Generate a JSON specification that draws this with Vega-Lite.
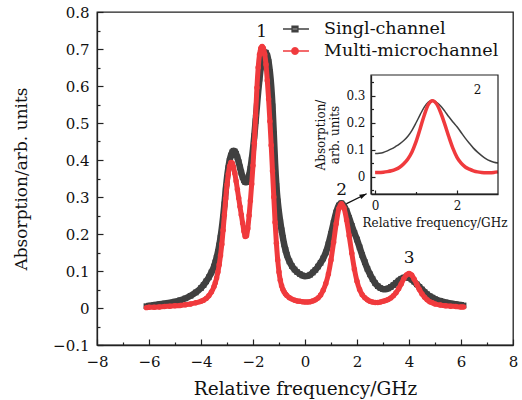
{
  "$schema": "https://vega.github.io/schema/vega-lite/v6.json",
  "width": 416,
  "height": 333,
  "autosize": {"type": "none"},
  "padding": {"left": 97, "top": 12, "right": 9, "bottom": 55},
  "background": "white",
  "config": {
    "font": "DejaVu Serif",
    "view": {"stroke": "#222", "strokeWidth": 1.3},
    "axis": {"grid": false, "domainColor": "#222", "domainWidth": 1.3, "tickColor": "#222", "tickWidth": 1.2, "labelColor": "#111", "titleColor": "#111", "titleFontWeight": "normal", "labelFont": "DejaVu Serif", "titleFont": "DejaVu Serif", "labelOverlap": false, "labelFlush": false, "labelBound": false},
    "legend": {"labelFont": "DejaVu Serif"}
  },
  "datasets": {
    "curves": [
      {"series": "Singl-channel", "x": -6.1, "y": 0.005},
      {"series": "Singl-channel", "x": -6.0, "y": 0.006},
      {"series": "Singl-channel", "x": -5.8, "y": 0.008},
      {"series": "Singl-channel", "x": -5.6, "y": 0.010},
      {"series": "Singl-channel", "x": -5.4, "y": 0.012},
      {"series": "Singl-channel", "x": -5.2, "y": 0.014},
      {"series": "Singl-channel", "x": -5.0, "y": 0.017},
      {"series": "Singl-channel", "x": -4.8, "y": 0.021},
      {"series": "Singl-channel", "x": -4.6, "y": 0.026},
      {"series": "Singl-channel", "x": -4.4, "y": 0.033},
      {"series": "Singl-channel", "x": -4.2, "y": 0.042},
      {"series": "Singl-channel", "x": -4.0, "y": 0.054},
      {"series": "Singl-channel", "x": -3.9, "y": 0.062},
      {"series": "Singl-channel", "x": -3.8, "y": 0.072},
      {"series": "Singl-channel", "x": -3.7, "y": 0.083},
      {"series": "Singl-channel", "x": -3.6, "y": 0.096},
      {"series": "Singl-channel", "x": -3.5, "y": 0.112},
      {"series": "Singl-channel", "x": -3.45, "y": 0.123},
      {"series": "Singl-channel", "x": -3.4, "y": 0.136},
      {"series": "Singl-channel", "x": -3.35, "y": 0.151},
      {"series": "Singl-channel", "x": -3.3, "y": 0.169},
      {"series": "Singl-channel", "x": -3.25, "y": 0.19},
      {"series": "Singl-channel", "x": -3.2, "y": 0.215},
      {"series": "Singl-channel", "x": -3.15, "y": 0.245},
      {"series": "Singl-channel", "x": -3.1, "y": 0.28},
      {"series": "Singl-channel", "x": -3.05, "y": 0.318},
      {"series": "Singl-channel", "x": -3.0, "y": 0.352},
      {"series": "Singl-channel", "x": -2.95, "y": 0.378},
      {"series": "Singl-channel", "x": -2.9, "y": 0.398},
      {"series": "Singl-channel", "x": -2.85, "y": 0.412},
      {"series": "Singl-channel", "x": -2.8, "y": 0.421},
      {"series": "Singl-channel", "x": -2.75, "y": 0.425},
      {"series": "Singl-channel", "x": -2.7, "y": 0.423},
      {"series": "Singl-channel", "x": -2.65, "y": 0.417},
      {"series": "Singl-channel", "x": -2.6, "y": 0.407},
      {"series": "Singl-channel", "x": -2.55, "y": 0.394},
      {"series": "Singl-channel", "x": -2.5, "y": 0.38},
      {"series": "Singl-channel", "x": -2.45, "y": 0.366},
      {"series": "Singl-channel", "x": -2.4, "y": 0.354},
      {"series": "Singl-channel", "x": -2.35, "y": 0.345},
      {"series": "Singl-channel", "x": -2.3, "y": 0.34},
      {"series": "Singl-channel", "x": -2.25, "y": 0.34},
      {"series": "Singl-channel", "x": -2.2, "y": 0.346},
      {"series": "Singl-channel", "x": -2.15, "y": 0.358},
      {"series": "Singl-channel", "x": -2.1, "y": 0.376},
      {"series": "Singl-channel", "x": -2.05, "y": 0.40},
      {"series": "Singl-channel", "x": -2.0, "y": 0.43},
      {"series": "Singl-channel", "x": -1.95, "y": 0.465},
      {"series": "Singl-channel", "x": -1.9, "y": 0.505},
      {"series": "Singl-channel", "x": -1.85, "y": 0.545},
      {"series": "Singl-channel", "x": -1.8, "y": 0.585},
      {"series": "Singl-channel", "x": -1.75, "y": 0.62},
      {"series": "Singl-channel", "x": -1.7, "y": 0.65},
      {"series": "Singl-channel", "x": -1.65, "y": 0.672},
      {"series": "Singl-channel", "x": -1.6, "y": 0.685},
      {"series": "Singl-channel", "x": -1.55, "y": 0.691},
      {"series": "Singl-channel", "x": -1.5, "y": 0.69},
      {"series": "Singl-channel", "x": -1.45, "y": 0.682},
      {"series": "Singl-channel", "x": -1.4, "y": 0.665},
      {"series": "Singl-channel", "x": -1.35, "y": 0.638},
      {"series": "Singl-channel", "x": -1.3, "y": 0.6},
      {"series": "Singl-channel", "x": -1.25, "y": 0.545},
      {"series": "Singl-channel", "x": -1.2, "y": 0.47},
      {"series": "Singl-channel", "x": -1.15, "y": 0.39},
      {"series": "Singl-channel", "x": -1.1, "y": 0.33},
      {"series": "Singl-channel", "x": -1.05, "y": 0.288},
      {"series": "Singl-channel", "x": -1.0, "y": 0.258},
      {"series": "Singl-channel", "x": -0.95, "y": 0.232},
      {"series": "Singl-channel", "x": -0.9, "y": 0.21},
      {"series": "Singl-channel", "x": -0.85, "y": 0.19},
      {"series": "Singl-channel", "x": -0.8, "y": 0.172},
      {"series": "Singl-channel", "x": -0.75, "y": 0.157},
      {"series": "Singl-channel", "x": -0.7, "y": 0.144},
      {"series": "Singl-channel", "x": -0.6, "y": 0.126},
      {"series": "Singl-channel", "x": -0.5, "y": 0.113},
      {"series": "Singl-channel", "x": -0.4, "y": 0.104},
      {"series": "Singl-channel", "x": -0.3, "y": 0.097},
      {"series": "Singl-channel", "x": -0.2, "y": 0.092},
      {"series": "Singl-channel", "x": -0.1, "y": 0.088},
      {"series": "Singl-channel", "x": 0.0, "y": 0.086},
      {"series": "Singl-channel", "x": 0.1, "y": 0.087},
      {"series": "Singl-channel", "x": 0.2, "y": 0.09},
      {"series": "Singl-channel", "x": 0.3, "y": 0.096},
      {"series": "Singl-channel", "x": 0.4, "y": 0.103},
      {"series": "Singl-channel", "x": 0.5, "y": 0.112},
      {"series": "Singl-channel", "x": 0.6, "y": 0.122},
      {"series": "Singl-channel", "x": 0.7, "y": 0.134},
      {"series": "Singl-channel", "x": 0.8, "y": 0.15},
      {"series": "Singl-channel", "x": 0.9, "y": 0.172},
      {"series": "Singl-channel", "x": 1.0, "y": 0.2},
      {"series": "Singl-channel", "x": 1.1, "y": 0.23},
      {"series": "Singl-channel", "x": 1.2, "y": 0.258},
      {"series": "Singl-channel", "x": 1.3, "y": 0.277},
      {"series": "Singl-channel", "x": 1.4, "y": 0.283},
      {"series": "Singl-channel", "x": 1.5, "y": 0.276},
      {"series": "Singl-channel", "x": 1.6, "y": 0.262},
      {"series": "Singl-channel", "x": 1.7, "y": 0.243},
      {"series": "Singl-channel", "x": 1.8, "y": 0.222},
      {"series": "Singl-channel", "x": 1.9, "y": 0.203},
      {"series": "Singl-channel", "x": 2.0, "y": 0.185},
      {"series": "Singl-channel", "x": 2.1, "y": 0.164},
      {"series": "Singl-channel", "x": 2.2, "y": 0.143},
      {"series": "Singl-channel", "x": 2.3, "y": 0.124},
      {"series": "Singl-channel", "x": 2.4, "y": 0.106},
      {"series": "Singl-channel", "x": 2.5, "y": 0.091},
      {"series": "Singl-channel", "x": 2.6, "y": 0.078},
      {"series": "Singl-channel", "x": 2.7, "y": 0.067},
      {"series": "Singl-channel", "x": 2.8, "y": 0.059},
      {"series": "Singl-channel", "x": 2.9, "y": 0.054},
      {"series": "Singl-channel", "x": 3.0, "y": 0.051},
      {"series": "Singl-channel", "x": 3.1, "y": 0.051},
      {"series": "Singl-channel", "x": 3.2, "y": 0.053},
      {"series": "Singl-channel", "x": 3.3, "y": 0.057},
      {"series": "Singl-channel", "x": 3.4, "y": 0.062},
      {"series": "Singl-channel", "x": 3.5, "y": 0.068},
      {"series": "Singl-channel", "x": 3.6, "y": 0.074},
      {"series": "Singl-channel", "x": 3.7, "y": 0.079},
      {"series": "Singl-channel", "x": 3.8, "y": 0.082},
      {"series": "Singl-channel", "x": 3.9, "y": 0.083},
      {"series": "Singl-channel", "x": 4.0, "y": 0.081},
      {"series": "Singl-channel", "x": 4.1, "y": 0.077},
      {"series": "Singl-channel", "x": 4.2, "y": 0.071},
      {"series": "Singl-channel", "x": 4.3, "y": 0.064},
      {"series": "Singl-channel", "x": 4.4, "y": 0.057},
      {"series": "Singl-channel", "x": 4.5, "y": 0.05},
      {"series": "Singl-channel", "x": 4.6, "y": 0.043},
      {"series": "Singl-channel", "x": 4.7, "y": 0.037},
      {"series": "Singl-channel", "x": 4.8, "y": 0.032},
      {"series": "Singl-channel", "x": 4.9, "y": 0.028},
      {"series": "Singl-channel", "x": 5.0, "y": 0.024},
      {"series": "Singl-channel", "x": 5.2, "y": 0.019},
      {"series": "Singl-channel", "x": 5.4, "y": 0.015},
      {"series": "Singl-channel", "x": 5.6, "y": 0.012},
      {"series": "Singl-channel", "x": 5.8, "y": 0.01},
      {"series": "Singl-channel", "x": 6.0, "y": 0.008},
      {"series": "Singl-channel", "x": 6.1, "y": 0.007},
      {"series": "Multi-microchannel", "x": -6.1, "y": 0.001},
      {"series": "Multi-microchannel", "x": -6.0, "y": 0.002},
      {"series": "Multi-microchannel", "x": -5.8, "y": 0.002},
      {"series": "Multi-microchannel", "x": -5.6, "y": 0.003},
      {"series": "Multi-microchannel", "x": -5.4, "y": 0.004},
      {"series": "Multi-microchannel", "x": -5.2, "y": 0.005},
      {"series": "Multi-microchannel", "x": -5.0, "y": 0.006},
      {"series": "Multi-microchannel", "x": -4.8, "y": 0.007},
      {"series": "Multi-microchannel", "x": -4.6, "y": 0.009},
      {"series": "Multi-microchannel", "x": -4.4, "y": 0.011},
      {"series": "Multi-microchannel", "x": -4.2, "y": 0.014},
      {"series": "Multi-microchannel", "x": -4.0, "y": 0.018},
      {"series": "Multi-microchannel", "x": -3.9, "y": 0.021},
      {"series": "Multi-microchannel", "x": -3.8, "y": 0.026},
      {"series": "Multi-microchannel", "x": -3.7, "y": 0.033},
      {"series": "Multi-microchannel", "x": -3.6, "y": 0.043},
      {"series": "Multi-microchannel", "x": -3.5, "y": 0.058},
      {"series": "Multi-microchannel", "x": -3.45, "y": 0.068},
      {"series": "Multi-microchannel", "x": -3.4, "y": 0.081},
      {"series": "Multi-microchannel", "x": -3.35, "y": 0.097},
      {"series": "Multi-microchannel", "x": -3.3, "y": 0.117},
      {"series": "Multi-microchannel", "x": -3.25, "y": 0.142},
      {"series": "Multi-microchannel", "x": -3.2, "y": 0.172},
      {"series": "Multi-microchannel", "x": -3.15, "y": 0.21},
      {"series": "Multi-microchannel", "x": -3.1, "y": 0.252},
      {"series": "Multi-microchannel", "x": -3.05, "y": 0.295},
      {"series": "Multi-microchannel", "x": -3.0, "y": 0.333},
      {"series": "Multi-microchannel", "x": -2.95, "y": 0.362},
      {"series": "Multi-microchannel", "x": -2.9, "y": 0.383},
      {"series": "Multi-microchannel", "x": -2.85, "y": 0.393},
      {"series": "Multi-microchannel", "x": -2.8, "y": 0.392},
      {"series": "Multi-microchannel", "x": -2.75, "y": 0.381},
      {"series": "Multi-microchannel", "x": -2.7, "y": 0.364},
      {"series": "Multi-microchannel", "x": -2.65, "y": 0.343},
      {"series": "Multi-microchannel", "x": -2.6, "y": 0.32},
      {"series": "Multi-microchannel", "x": -2.55, "y": 0.297},
      {"series": "Multi-microchannel", "x": -2.5, "y": 0.274},
      {"series": "Multi-microchannel", "x": -2.45, "y": 0.252},
      {"series": "Multi-microchannel", "x": -2.4, "y": 0.23},
      {"series": "Multi-microchannel", "x": -2.35, "y": 0.208},
      {"series": "Multi-microchannel", "x": -2.3, "y": 0.193},
      {"series": "Multi-microchannel", "x": -2.25, "y": 0.195},
      {"series": "Multi-microchannel", "x": -2.2, "y": 0.215},
      {"series": "Multi-microchannel", "x": -2.15, "y": 0.25},
      {"series": "Multi-microchannel", "x": -2.1, "y": 0.29},
      {"series": "Multi-microchannel", "x": -2.05, "y": 0.335},
      {"series": "Multi-microchannel", "x": -2.0, "y": 0.385},
      {"series": "Multi-microchannel", "x": -1.95, "y": 0.445},
      {"series": "Multi-microchannel", "x": -1.9, "y": 0.52},
      {"series": "Multi-microchannel", "x": -1.85, "y": 0.595},
      {"series": "Multi-microchannel", "x": -1.8, "y": 0.65},
      {"series": "Multi-microchannel", "x": -1.75, "y": 0.685},
      {"series": "Multi-microchannel", "x": -1.7, "y": 0.702},
      {"series": "Multi-microchannel", "x": -1.65, "y": 0.707},
      {"series": "Multi-microchannel", "x": -1.6, "y": 0.702},
      {"series": "Multi-microchannel", "x": -1.55, "y": 0.686},
      {"series": "Multi-microchannel", "x": -1.5, "y": 0.658},
      {"series": "Multi-microchannel", "x": -1.45, "y": 0.615},
      {"series": "Multi-microchannel", "x": -1.4, "y": 0.565},
      {"series": "Multi-microchannel", "x": -1.35, "y": 0.505},
      {"series": "Multi-microchannel", "x": -1.3, "y": 0.44},
      {"series": "Multi-microchannel", "x": -1.25, "y": 0.37},
      {"series": "Multi-microchannel", "x": -1.2, "y": 0.3},
      {"series": "Multi-microchannel", "x": -1.15, "y": 0.232},
      {"series": "Multi-microchannel", "x": -1.1, "y": 0.175},
      {"series": "Multi-microchannel", "x": -1.05, "y": 0.13},
      {"series": "Multi-microchannel", "x": -1.0, "y": 0.097},
      {"series": "Multi-microchannel", "x": -0.95, "y": 0.075},
      {"series": "Multi-microchannel", "x": -0.9, "y": 0.06},
      {"series": "Multi-microchannel", "x": -0.85, "y": 0.05},
      {"series": "Multi-microchannel", "x": -0.8, "y": 0.043},
      {"series": "Multi-microchannel", "x": -0.75, "y": 0.038},
      {"series": "Multi-microchannel", "x": -0.7, "y": 0.034},
      {"series": "Multi-microchannel", "x": -0.6, "y": 0.028},
      {"series": "Multi-microchannel", "x": -0.5, "y": 0.024},
      {"series": "Multi-microchannel", "x": -0.4, "y": 0.021},
      {"series": "Multi-microchannel", "x": -0.3, "y": 0.019},
      {"series": "Multi-microchannel", "x": -0.2, "y": 0.018},
      {"series": "Multi-microchannel", "x": -0.1, "y": 0.017},
      {"series": "Multi-microchannel", "x": 0.0, "y": 0.016},
      {"series": "Multi-microchannel", "x": 0.1, "y": 0.016},
      {"series": "Multi-microchannel", "x": 0.2, "y": 0.017},
      {"series": "Multi-microchannel", "x": 0.3, "y": 0.019},
      {"series": "Multi-microchannel", "x": 0.4, "y": 0.022},
      {"series": "Multi-microchannel", "x": 0.5, "y": 0.027},
      {"series": "Multi-microchannel", "x": 0.6, "y": 0.035},
      {"series": "Multi-microchannel", "x": 0.7, "y": 0.048},
      {"series": "Multi-microchannel", "x": 0.8, "y": 0.066},
      {"series": "Multi-microchannel", "x": 0.9, "y": 0.092},
      {"series": "Multi-microchannel", "x": 1.0, "y": 0.13},
      {"series": "Multi-microchannel", "x": 1.1, "y": 0.178},
      {"series": "Multi-microchannel", "x": 1.2, "y": 0.228},
      {"series": "Multi-microchannel", "x": 1.3, "y": 0.268},
      {"series": "Multi-microchannel", "x": 1.4, "y": 0.282},
      {"series": "Multi-microchannel", "x": 1.5, "y": 0.27},
      {"series": "Multi-microchannel", "x": 1.6, "y": 0.238},
      {"series": "Multi-microchannel", "x": 1.7, "y": 0.195},
      {"series": "Multi-microchannel", "x": 1.8, "y": 0.148},
      {"series": "Multi-microchannel", "x": 1.9, "y": 0.105},
      {"series": "Multi-microchannel", "x": 2.0, "y": 0.072},
      {"series": "Multi-microchannel", "x": 2.1, "y": 0.05},
      {"series": "Multi-microchannel", "x": 2.2, "y": 0.036},
      {"series": "Multi-microchannel", "x": 2.3, "y": 0.028},
      {"series": "Multi-microchannel", "x": 2.4, "y": 0.022},
      {"series": "Multi-microchannel", "x": 2.5, "y": 0.018},
      {"series": "Multi-microchannel", "x": 2.6, "y": 0.016},
      {"series": "Multi-microchannel", "x": 2.7, "y": 0.015},
      {"series": "Multi-microchannel", "x": 2.8, "y": 0.015},
      {"series": "Multi-microchannel", "x": 2.9, "y": 0.016},
      {"series": "Multi-microchannel", "x": 3.0, "y": 0.018},
      {"series": "Multi-microchannel", "x": 3.1, "y": 0.02},
      {"series": "Multi-microchannel", "x": 3.2, "y": 0.023},
      {"series": "Multi-microchannel", "x": 3.3, "y": 0.027},
      {"series": "Multi-microchannel", "x": 3.4, "y": 0.033},
      {"series": "Multi-microchannel", "x": 3.5, "y": 0.041},
      {"series": "Multi-microchannel", "x": 3.6, "y": 0.052},
      {"series": "Multi-microchannel", "x": 3.7, "y": 0.065},
      {"series": "Multi-microchannel", "x": 3.8, "y": 0.079},
      {"series": "Multi-microchannel", "x": 3.9, "y": 0.089},
      {"series": "Multi-microchannel", "x": 4.0, "y": 0.093},
      {"series": "Multi-microchannel", "x": 4.1, "y": 0.089},
      {"series": "Multi-microchannel", "x": 4.2, "y": 0.078},
      {"series": "Multi-microchannel", "x": 4.3, "y": 0.064},
      {"series": "Multi-microchannel", "x": 4.4, "y": 0.05},
      {"series": "Multi-microchannel", "x": 4.5, "y": 0.038},
      {"series": "Multi-microchannel", "x": 4.6, "y": 0.029},
      {"series": "Multi-microchannel", "x": 4.7, "y": 0.022},
      {"series": "Multi-microchannel", "x": 4.8, "y": 0.017},
      {"series": "Multi-microchannel", "x": 4.9, "y": 0.014},
      {"series": "Multi-microchannel", "x": 5.0, "y": 0.011},
      {"series": "Multi-microchannel", "x": 5.2, "y": 0.008},
      {"series": "Multi-microchannel", "x": 5.4, "y": 0.006},
      {"series": "Multi-microchannel", "x": 5.6, "y": 0.005},
      {"series": "Multi-microchannel", "x": 5.8, "y": 0.004},
      {"series": "Multi-microchannel", "x": 6.0, "y": 0.003},
      {"series": "Multi-microchannel", "x": 6.1, "y": 0.003}
    ],
    "peaks": [
      {"label": "1", "x": -1.67, "y": 0.746},
      {"label": "2", "x": 1.41, "y": 0.318},
      {"label": "3", "x": 4.01, "y": 0.134}
    ],
    "arrow": [
      {"x": 1.6, "y": 0.282, "x2": 2.37, "y2": 0.309}
    ],
    "insetLabel": [
      {"label": "2", "x": 2.5, "y": 0.321}
    ],
    "frame": [
      {"x": -0.1, "x2": 3.0, "y": -0.064, "y2": 0.377}
    ]
  },
  "resolve": {"scale": {"x": "independent", "y": "independent"}},
  "layer": [
    {
      "data": {"name": "curves"},
      "transform": [{"filter": "datum.series === 'Singl-channel'"}],
      "mark": {"type": "line", "interpolate": "monotone", "strokeWidth": 6.5, "color": "#404040"},
      "encoding": {
        "x": {"field": "x", "type": "quantitative", "scale": {"domain": [-8, 8], "nice": false, "zero": false},
          "axis": {"orient": "bottom", "values": [-8,-7,-6,-5,-4,-3,-2,-1,0,1,2,3,4,5,6,7,8],
            "tickSize": {"condition": {"test": "datum.value % 2 === 0", "value": -6}, "value": -3},
            "labelExpr": "datum.value % 2 === 0 ? format(datum.value, 'd') : ''",
            "labelFontSize": 15, "labelPadding": 15, "title": "Relative frequency/GHz", "titleFontSize": 18.5, "titlePadding": 7}},
        "y": {"field": "y", "type": "quantitative", "scale": {"domain": [-0.1, 0.8], "nice": false, "zero": false},
          "axis": {"orient": "left", "values": [-0.1,-0.05,0,0.05,0.1,0.15,0.2,0.25,0.3,0.35,0.4,0.45,0.5,0.55,0.6,0.65,0.7,0.75,0.8],
            "tickSize": {"condition": {"test": "abs(round(datum.value*20)) % 2 === 0", "value": -6}, "value": -3},
            "labelExpr": "abs(round(datum.value*20)) % 2 === 0 ? format(datum.value, '.1~f') : ''",
            "labelFontSize": 15, "labelPadding": 14, "title": "Absorption/arb. units", "titleFontSize": 17, "titlePadding": 22}}
      }
    },
    {
      "data": {"name": "curves"},
      "transform": [{"filter": "datum.series === 'Singl-channel'"}],
      "mark": {"type": "point", "filled": true, "shape": "square", "size": 32, "opacity": 1, "color": "#404040"},
      "encoding": {
        "x": {"field": "x", "type": "quantitative", "scale": {"domain": [-8, 8], "nice": false, "zero": false}, "axis": null},
        "y": {"field": "y", "type": "quantitative", "scale": {"domain": [-0.1, 0.8], "nice": false, "zero": false}, "axis": null}
      }
    },
    {
      "data": {"name": "curves"},
      "transform": [{"filter": "datum.series === 'Multi-microchannel'"}],
      "mark": {"type": "line", "interpolate": "monotone", "strokeWidth": 5, "color": "#f03a3d"},
      "encoding": {
        "x": {"field": "x", "type": "quantitative", "scale": {"domain": [-8, 8], "nice": false, "zero": false}, "axis": null},
        "y": {"field": "y", "type": "quantitative", "scale": {"domain": [-0.1, 0.8], "nice": false, "zero": false}, "axis": null}
      }
    },
    {
      "data": {"name": "curves"},
      "transform": [{"filter": "datum.series === 'Multi-microchannel'"}],
      "mark": {"type": "point", "filled": true, "shape": "circle", "size": 30, "opacity": 1, "color": "#f03a3d"},
      "encoding": {
        "x": {"field": "x", "type": "quantitative", "scale": {"domain": [-8, 8], "nice": false, "zero": false}, "axis": null},
        "y": {"field": "y", "type": "quantitative", "scale": {"domain": [-0.1, 0.8], "nice": false, "zero": false}, "axis": null}
      }
    },
    {
      "data": {"name": "peaks"},
      "mark": {"type": "text", "fontSize": 17, "color": "#111", "baseline": "middle", "align": "center"},
      "encoding": {
        "x": {"field": "x", "type": "quantitative", "scale": {"domain": [-8, 8], "nice": false, "zero": false}, "axis": null},
        "y": {"field": "y", "type": "quantitative", "scale": {"domain": [-0.1, 0.8], "nice": false, "zero": false}, "axis": null},
        "text": {"field": "label"}
      }
    },
    {
      "data": {"name": "arrow"},
      "mark": {"type": "rule", "color": "#111", "strokeWidth": 1.2},
      "encoding": {
        "x": {"field": "x", "type": "quantitative", "scale": {"domain": [-8, 8], "nice": false, "zero": false}, "axis": null},
        "y": {"field": "y", "type": "quantitative", "scale": {"domain": [-0.1, 0.8], "nice": false, "zero": false}, "axis": null},
        "x2": {"field": "x2"},
        "y2": {"field": "y2"}
      }
    },
    {
      "data": {"name": "arrow"},
      "mark": {"type": "point", "filled": true, "color": "#111", "opacity": 1, "size": 64, "angle": 63, "shape": "M0,0L0.6,1.8L-0.6,1.8Z"},
      "encoding": {
        "x": {"field": "x2", "type": "quantitative", "scale": {"domain": [-8, 8], "nice": false, "zero": false}, "axis": null},
        "y": {"field": "y2", "type": "quantitative", "scale": {"domain": [-0.1, 0.8], "nice": false, "zero": false}, "axis": null}
      }
    },
    {
      "data": {"name": "curves"},
      "transform": [{"filter": "datum.series === 'Singl-channel' && datum.x >= 0 && datum.x <= 3"}],
      "mark": {"type": "line", "interpolate": "monotone", "strokeWidth": 1.5, "color": "#404040"},
      "encoding": {
        "x": {"field": "x", "type": "quantitative", "scale": {"domain": [-0.1, 3.0], "range": [274, 401], "nice": false, "zero": false},
          "axis": {"orient": "bottom", "offset": -151, "values": [0, 1, 2],
            "tickSize": {"condition": {"test": "datum.value % 2 === 0", "value": -4}, "value": -2.5},
            "labelExpr": "datum.value % 2 === 0 ? format(datum.value, 'd') : ''",
            "labelFontSize": 12, "labelPadding": 10, "title": "Relative frequency/GHz", "titleFontSize": 12, "titlePadding": 5}},
        "y": {"field": "y", "type": "quantitative", "scale": {"domain": [-0.064, 0.377], "range": [182, 63], "nice": false, "zero": false},
          "axis": {"orient": "left", "offset": -274, "values": [-0.05, 0, 0.05, 0.1, 0.15, 0.2, 0.25, 0.3, 0.35],
            "tickSize": {"condition": {"test": "abs(round(datum.value*20)) % 2 === 0", "value": -4}, "value": -2.5},
            "labelExpr": "abs(round(datum.value*20)) % 2 === 0 ? format(datum.value, '.1~f') : ''",
            "labelFontSize": 12, "labelPadding": 10, "title": ["Absorption/", "arb. units"], "titleFontSize": 12, "titlePadding": 4, "titleLineHeight": 14}}
      }
    },
    {
      "data": {"name": "curves"},
      "transform": [{"filter": "datum.series === 'Multi-microchannel' && datum.x >= 0 && datum.x <= 3"}],
      "mark": {"type": "line", "interpolate": "monotone", "strokeWidth": 3.5, "color": "#f03a3d"},
      "encoding": {
        "x": {"field": "x", "type": "quantitative", "scale": {"domain": [-0.1, 3.0], "range": [274, 401], "nice": false, "zero": false}, "axis": null},
        "y": {"field": "y", "type": "quantitative", "scale": {"domain": [-0.064, 0.377], "range": [182, 63], "nice": false, "zero": false}, "axis": null}
      }
    },
    {
      "data": {"name": "frame"},
      "mark": {"type": "rect", "fill": null, "fillOpacity": 0, "stroke": "#222", "strokeWidth": 1.2},
      "encoding": {
        "x": {"field": "x", "type": "quantitative", "scale": {"domain": [-0.1, 3.0], "range": [274, 401], "nice": false, "zero": false}, "axis": null},
        "x2": {"field": "x2"},
        "y": {"field": "y", "type": "quantitative", "scale": {"domain": [-0.064, 0.377], "range": [182, 63], "nice": false, "zero": false}, "axis": null},
        "y2": {"field": "y2"}
      }
    },
    {
      "data": {"name": "insetLabel"},
      "mark": {"type": "text", "fontSize": 12, "color": "#111", "baseline": "middle", "align": "center"},
      "encoding": {
        "x": {"field": "x", "type": "quantitative", "scale": {"domain": [-0.1, 3.0], "range": [274, 401], "nice": false, "zero": false}, "axis": null},
        "y": {"field": "y", "type": "quantitative", "scale": {"domain": [-0.064, 0.377], "range": [182, 63], "nice": false, "zero": false}, "axis": null},
        "text": {"field": "label"}
      }
    },
    {
      "data": {"name": "curves"},
      "transform": [{"filter": "datum.x === 0"}],
      "mark": {"type": "point", "filled": true, "opacity": 0},
      "encoding": {
        "fill": {"field": "series", "type": "nominal", "scale": {"domain": ["Singl-channel", "Multi-microchannel"], "range": ["#404040", "#f03a3d"]},
          "legend": {"orient": "none", "legendX": 186, "legendY": 6, "title": null, "padding": 0, "rowPadding": 0, "clipHeight": 22, "symbolSize": 484, "symbolStrokeWidth": 1.3, "symbolOpacity": 1, "labelFontSize": 17.5, "labelOffset": 17, "labelColor": "#111", "labelLimit": 300}},
        "stroke": {"field": "series", "type": "nominal", "scale": {"domain": ["Singl-channel", "Multi-microchannel"], "range": ["#404040", "#f03a3d"]}},
        "shape": {"field": "series", "type": "nominal", "scale": {"domain": ["Singl-channel", "Multi-microchannel"], "range": ["M-1.27,0H1.27M-0.27,-0.27H0.27V0.27H-0.27ZM-0.27,-0.14H0.27M-0.27,0.14H0.27", "M-1.27,0H1.27M0.3,0L0.26,0.15L0.15,0.26L0,0.3L-0.15,0.26L-0.26,0.15L-0.3,0L-0.26,-0.15L-0.15,-0.26L0,-0.3L0.15,-0.26L0.26,-0.15ZM-0.24,-0.12H0.24M-0.24,0.12H0.24M-0.14,-0.22H0.14M-0.14,0.22H0.14"]}}
      }
    }
  ]
}
